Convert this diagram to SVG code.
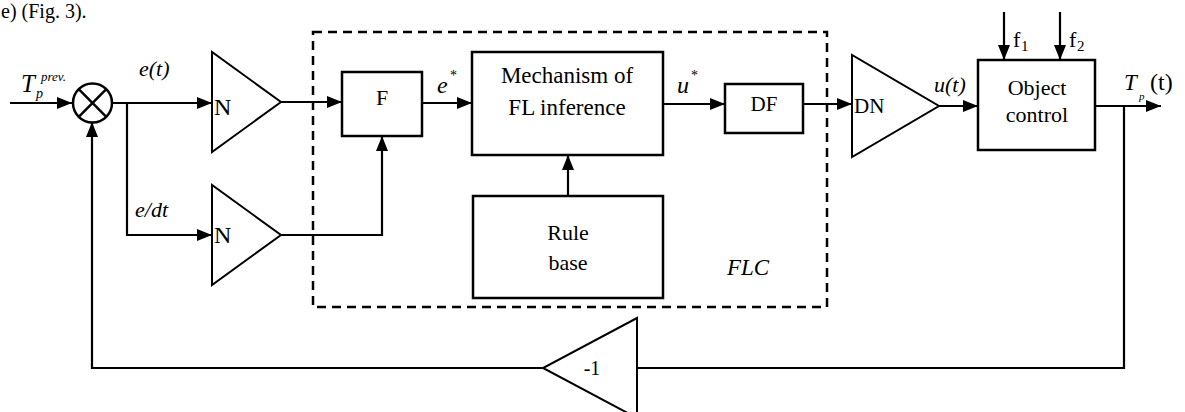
<svg xmlns="http://www.w3.org/2000/svg" width="1185" height="412" viewBox="0 0 1185 412">
<defs>
<marker id="arr" markerUnits="userSpaceOnUse" markerWidth="16" markerHeight="12" viewBox="0 0 16 12" refX="15" refY="6" orient="auto">
<path d="M0,0 L15,6 L0,12 z" fill="#000"/>
</marker>
<style>
text{font-family:'Liberation Serif','Times New Roman',serif;fill:#000}
.i{font-style:italic}
.box{fill:#fff;stroke:#000;stroke-width:2.5}
.tri{fill:#fff;stroke:#000;stroke-width:2}
.ln{fill:none;stroke:#000;stroke-width:2.2}
.ar{fill:none;stroke:#000;stroke-width:2.2;marker-end:url(#arr)}
</style>
</defs>
<rect width="1185" height="412" fill="#fff"/>
<text x="1" y="18" font-size="20">e) (Fig. 3).</text>

<g id="connectors">
<line class="ar" x1="10" y1="103" x2="72" y2="103"/>
<line class="ar" x1="112" y1="103" x2="212" y2="103"/>
<polyline class="ar" points="127,103 127,235 212,235"/>
<line class="ar" x1="281" y1="102" x2="342" y2="102"/>
<polyline class="ar" points="281,235 382,235 382,136"/>
<line class="ar" x1="422" y1="103" x2="472" y2="103"/>
<line class="ar" x1="568" y1="196" x2="568" y2="155"/>
<line class="ar" x1="663" y1="104" x2="725" y2="104"/>
<line class="ar" x1="803" y1="104" x2="852" y2="104"/>
<line class="ar" x1="939" y1="106" x2="978" y2="106"/>
<line class="ar" x1="1004" y1="12" x2="1004" y2="60"/>
<line class="ar" x1="1060" y1="12" x2="1060" y2="60"/>
<line class="ar" x1="1095" y1="106" x2="1161" y2="106"/>
<polyline class="ln" points="1124,106 1124,368 637,368"/>
<polyline class="ar" points="543,368 92,368 92,122"/>
</g>

<g id="flc-frame">
<rect x="313" y="32" width="514" height="275" fill="none" stroke="#000" stroke-width="2.5" stroke-dasharray="9,6"/>
<text class="i" x="727" y="275" font-size="23">FLC</text>
</g>

<g id="sum">
<circle cx="92.5" cy="103" r="19.5" fill="#fff" stroke="#000" stroke-width="2.5"/>
<line x1="78.7" y1="89.2" x2="106.3" y2="116.8" stroke="#000" stroke-width="2.5"/>
<line x1="106.3" y1="89.2" x2="78.7" y2="116.8" stroke="#000" stroke-width="2.5"/>
</g>

<g id="labels">
<text class="i" x="21" y="92" font-size="25">T</text>
<text class="i" x="36" y="98" font-size="14">p</text>
<text class="i" x="41" y="81" font-size="13">prev.</text>
<text class="i" x="139" y="76" font-size="22">e(t)</text>
<text class="i" x="135" y="217" font-size="22">e/dt</text>
<text class="i" x="437" y="93" font-size="24">e</text>
<text x="450" y="80" font-size="14">*</text>
<text class="i" x="677" y="93" font-size="24">u</text>
<text x="691" y="80" font-size="14">*</text>
<text class="i" x="934" y="92" font-size="22">u(t)</text>
<text x="1013" y="47" font-size="22">f</text>
<text x="1021" y="51" font-size="15">1</text>
<text x="1069" y="47" font-size="22">f</text>
<text x="1077" y="51" font-size="15">2</text>
<text class="i" x="1124" y="90" font-size="23">T</text>
<text class="i" x="1139" y="100" font-size="11">p</text>
<text x="1150" y="90" font-size="24">(t)</text>
</g>

<g id="gain-n1">
<polygon class="tri" points="212,52 212,152 281,102"/>
<text x="214" y="115" font-size="24">N</text>
</g>
<g id="gain-n2">
<polygon class="tri" points="212,185 212,285 281,235"/>
<text x="214" y="243" font-size="24">N</text>
</g>
<g id="f-box">
<rect class="box" x="342" y="72" width="80" height="64"/>
<text x="382" y="105" font-size="22" text-anchor="middle">F</text>
</g>
<g id="mechanism">
<rect class="box" x="472" y="52" width="191" height="103"/>
<text x="567" y="83" font-size="23" text-anchor="middle">Mechanism of</text>
<text x="567" y="115" font-size="23" text-anchor="middle">FL inference</text>
</g>
<g id="rule-base">
<rect class="box" x="473" y="196" width="190" height="102"/>
<text x="568" y="240" font-size="22" text-anchor="middle">Rule</text>
<text x="568" y="270" font-size="22" text-anchor="middle">base</text>
</g>
<g id="df-box">
<rect class="box" x="725" y="84" width="78" height="49"/>
<text x="764" y="111" font-size="21" text-anchor="middle">DF</text>
</g>
<g id="gain-dn">
<polygon class="tri" points="852,55 852,157 939,106"/>
<text x="854" y="113" font-size="21">DN</text>
</g>
<g id="object">
<rect class="box" x="978" y="60" width="117" height="90"/>
<text x="1037" y="95" font-size="22" text-anchor="middle">Object</text>
<text x="1037" y="122" font-size="22" text-anchor="middle">control</text>
</g>
<g id="gain-neg">
<polygon class="tri" points="637,318 637,418 543,368"/>
<text x="592" y="375" font-size="20" text-anchor="middle">-1</text>
</g>
</svg>
